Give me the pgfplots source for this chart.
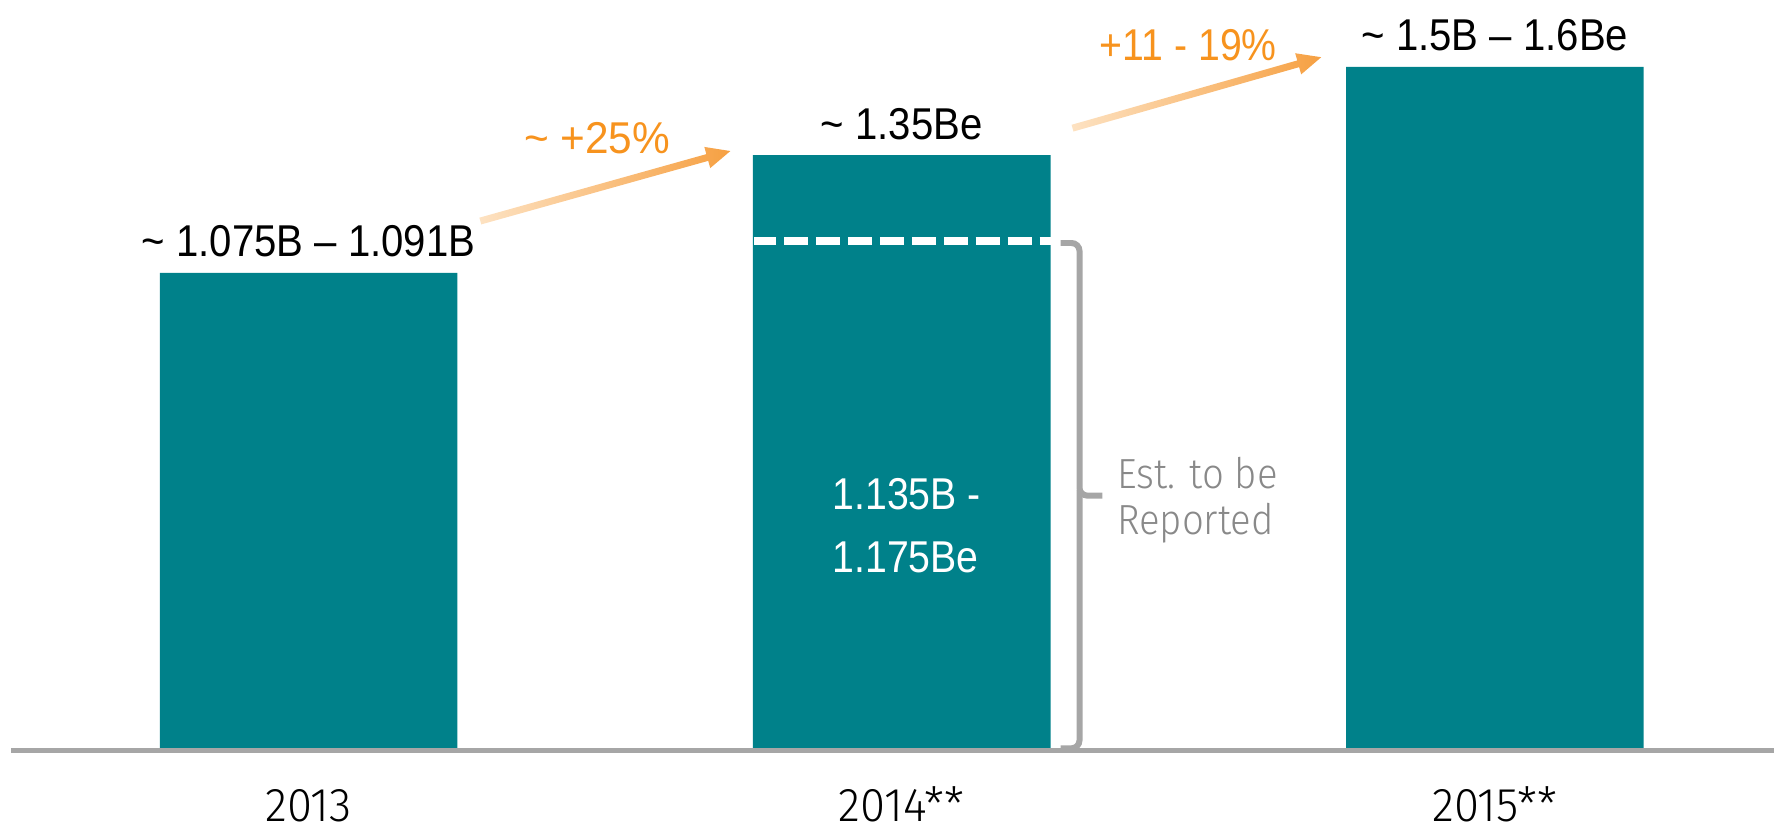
\documentclass[border=0pt]{standalone}
\usepackage{fontspec}
\setmainfont{Liberation Sans}
\IfFontExistsTF{Fira Sans Light}{\newfontfamily\lightfont{Fira Sans Light}}{\newfontfamily\lightfont{Liberation Sans}}
\usepackage{graphicx}
\usepackage{pgfplots}
\pgfplotsset{compat=1.18}
\definecolor{barteal}{RGB}{0,129,138}
\definecolor{basegray}{RGB}{166,166,166}
\definecolor{textgray}{RGB}{137,137,137}
\definecolor{orangetxt}{RGB}{247,147,30}
\definecolor{arrowlight}{RGB}{253,226,194}
\definecolor{arrowdark}{RGB}{246,160,66}
\begin{document}
\begin{tikzpicture}
\begin{axis}[
  scale only axis, width=177.6mm, height=82.9mm,
  xmin=-0.5202, xmax=2.4697, ymin=-0.1767, ymax=1.701,
  axis line style={draw=none},
  ytick=\empty,
  xtick={0,1,2},
  xticklabels={{\scalebox{0.96}[1]{2013}},{\scalebox{0.96}[1]{2014**}},{\scalebox{0.96}[1]{2015**}}},
  major tick length=0pt,
  xticklabel style={anchor=base, inner sep=0pt, yshift=0.65mm, font=\lightfont\fontsize{13.5}{16}\selectfont},
  ybar, bar width=29.8mm,
  clip=false,
  point meta=explicit symbolic,
  nodes near coords={\scalebox{0.9}[1]{\pgfplotspointmeta}},
  every node near coord/.append style={anchor=base, yshift=1.6mm, font=\fontsize{12.7}{15}\selectfont, text=black, inner sep=0pt},
]
\addplot[fill=barteal, draw=none] coordinates {
 (0,1.083) [{\textasciitilde{} 1.075B – 1.091B}]
 (1,1.35) [{\textasciitilde{} 1.35Be}]
 (2,1.55) [{\textasciitilde{} 1.5B – 1.6Be}]
};
\draw[basegray, line width=0.5mm] (axis cs:-0.5017,0) -- (axis cs:2.4697,0);
\draw[white, line width=0.75mm, dash pattern=on 2.4mm off 0.8mm, dash phase=0.2mm] (axis cs:0.751,1.155) -- (axis cs:1.2525,1.155);
\coordinate (NW) at (rel axis cs:0,1);
\end{axis}
\begin{scope}[shift={(NW)}, x=0.1mm, y=-0.1mm]
  % arrows
  \begin{scope}[shift={(481,221)}, rotate=15.64]
    \shade[left color=arrowlight, right color=arrowdark] (0,-3.5) -- (236,-3.5) -- (236,-11) -- (260,0) -- (236,11) -- (236,3.5) -- (0,3.5) -- cycle;
  \end{scope}
  \begin{scope}[shift={(1074,128)}, rotate=15.92]
    \shade[left color=arrowlight, right color=arrowdark] (0,-3.5) -- (235,-3.5) -- (235,-11) -- (259,0) -- (235,11) -- (235,3.5) -- (0,3.5) -- cycle;
  \end{scope}
  \node[anchor=base, text=orangetxt, font=\fontsize{12.7}{15}\selectfont, inner sep=0pt] at (598,153) {\scalebox{0.95}[1]{\textasciitilde{} +25\%}};
  \node[anchor=base, text=orangetxt, font=\fontsize{12.7}{15}\selectfont, inner sep=0pt] at (1190,60) {\scalebox{0.88}[1]{+11 - 19\%}};
  % bracket
  \draw[basegray, line width=0.6mm, rounded corners=0.8mm] (1062,243) -- (1081,243) -- (1081,496) -- (1104,496);
  \draw[basegray, line width=0.6mm, rounded corners=0.8mm] (1081,490) -- (1081,749) -- (1062,749);
  \node[anchor=base west, text=textgray, font=\lightfont\fontsize{12}{14}\selectfont, inner sep=0pt] at (1118,489) {\scalebox{0.91}[1]{Est. to be}};
  \node[anchor=base west, text=textgray, font=\lightfont\fontsize{12}{14}\selectfont, inner sep=0pt] at (1118,535) {\scalebox{0.91}[1]{Reported}};
  % inner labels
  \node[anchor=base west, text=white, font=\fontsize{12.7}{15}\selectfont, inner sep=0pt] at (833,510) {\scalebox{0.88}[1]{1.135B -}};
  \node[anchor=base west, text=white, font=\fontsize{12.7}{15}\selectfont, inner sep=0pt] at (833,573) {\scalebox{0.88}[1]{1.175Be}};
\end{scope}
\end{tikzpicture}
\end{document}
